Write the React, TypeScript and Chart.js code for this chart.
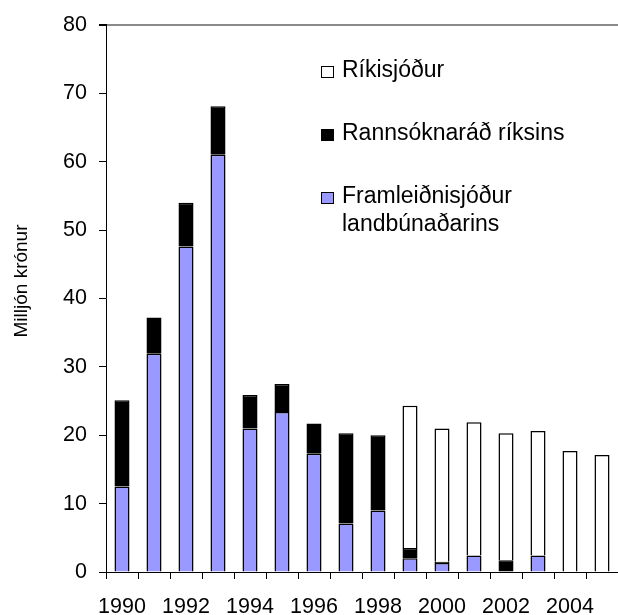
import React, { useEffect, useRef } from "react";
import { Chart, registerables } from "chart.js";

Chart.register(...registerables);

const years = ["1990","1991","1992","1993","1994","1995","1996","1997","1998","1999","2000","2001","2002","2003","2004","2005"];
const framleidni = [12.5, 31.9, 47.6, 61.0, 21.0, 23.4, 17.3, 7.1, 9.0, 2.0, 1.3, 2.4, null, 2.4, null, null];
const rannsokna = [12.6, 5.3, 6.4, 7.1, 4.9, 4.1, 4.4, 13.2, 11.0, 1.5, 0.2, null, 1.7, null, null, null];
const rikissjodur = [null, null, null, null, null, null, null, null, null, 20.8, 19.5, 19.5, 18.6, 18.2, 17.7, 17.1];
const yTicks = [0, 10, 20, 30, 40, 50, 60, 70, 80];
const yTitle = "Milljón krónur";
const legendItems = [
  { lines: ["Ríkisjóður"], color: "#FFFFFF" },
  { lines: ["Rannsóknaráð ríksins"], color: "#000000" },
  { lines: ["Framleiðnisjóður", "landbúnaðarins"], color: "#9999FF" },
];

const FONT = "'Liberation Sans', Arial, sans-serif";

const overlayPlugin = {
  id: "overlay",
  afterDraw(chart: any) {
    const ctx = chart.ctx;
    ctx.save();
    // y title
    ctx.translate(22, 281);
    ctx.rotate(-Math.PI / 2);
    ctx.font = `19px ${FONT}`;
    ctx.fillStyle = "#000";
    ctx.textAlign = "center";
    ctx.textBaseline = "middle";
    ctx.fillText(yTitle, 0, 0);
    ctx.restore();

    // legend
    ctx.save();
    ctx.font = `23px ${FONT}`;
    ctx.textBaseline = "middle";
    ctx.textAlign = "left";
    const rowY = [72, 135, 198];
    legendItems.forEach((item, i) => {
      const cy = rowY[i];
      ctx.fillStyle = item.color;
      ctx.fillRect(321, cy - 6, 13, 12);
      ctx.strokeStyle = "#000";
      ctx.lineWidth = 1;
      ctx.strokeRect(321.5, cy - 5.5, 12, 11);
      ctx.fillStyle = "#000";
      item.lines.forEach((ln, j) => {
        ctx.fillText(ln, 342, cy - 1 + j * 28);
      });
    });
    ctx.restore();
  },
};

export default function App() {
  const ref = useRef<HTMLCanvasElement | null>(null);
  useEffect(() => {
    if (!ref.current) return;
    const common = { borderColor: "#000000", borderWidth: 1.5, barPercentage: 0.47, categoryPercentage: 1 };
    const chart = new Chart(ref.current, {
      type: "bar",
      data: {
        labels: years,
        datasets: [
          { label: "Framleiðnisjóður landbúnaðarins", data: framleidni, backgroundColor: "#9999FF", ...common },
          { label: "Rannsóknaráð ríksins", data: rannsokna, backgroundColor: "#000000", ...common },
          { label: "Ríkisjóður", data: rikissjodur, backgroundColor: "#FFFFFF", ...common },
        ],
      },
      options: {
        animation: false,
        responsive: false,
        maintainAspectRatio: false,
        layout: { padding: { top: 23, right: 0, left: 0, bottom: 0 } },
        plugins: { legend: { display: false }, tooltip: { enabled: false } },
        scales: {
          x: {
            stacked: true,
            afterFit: (s: any) => { s.height = 43; },
            grid: { display: true, drawOnChartArea: false, offset: true, tickLength: 7, tickColor: "#000", tickWidth: 1 },
            border: { color: "#000", width: 1 },
            ticks: {
              autoSkip: false,
              maxRotation: 0,
              minRotation: 0,
              padding: 15,
              color: "#000",
              font: { family: FONT, size: 21.5 },
              callback: (v: any, i: number) => (i % 2 === 0 ? years[i] : ""),
            },
          },
          y: {
            stacked: true,
            min: 0,
            max: 80,
            afterFit: (s: any) => { s.width = 106; },
            afterBuildTicks: (s: any) => { s.ticks = yTicks.map((v) => ({ value: v })); },
            grid: {
              drawOnChartArea: true,
              tickLength: 7,
              tickColor: "#000",
              color: (c: any) => (c.tick && c.tick.value === 80 ? "#8a8a8a" : "rgba(0,0,0,0)"),
              lineWidth: (c: any) => (c.tick && c.tick.value === 80 ? 2 : 1),
            },
            border: { color: "#000", width: 1 },
            ticks: { padding: 12, color: "#000", font: { family: FONT, size: 21.5 } },
          },
        },
      },
      plugins: [overlayPlugin],
    });
    return () => chart.destroy();
  }, []);
  return (
    <div style={{ position: "fixed", left: 0, top: 0, width: 618, height: 615, background: "#fff" }}>
      <canvas ref={ref} width={618} height={615} style={{ width: 618, height: 615, display: "block" }} />
    </div>
  );
}
